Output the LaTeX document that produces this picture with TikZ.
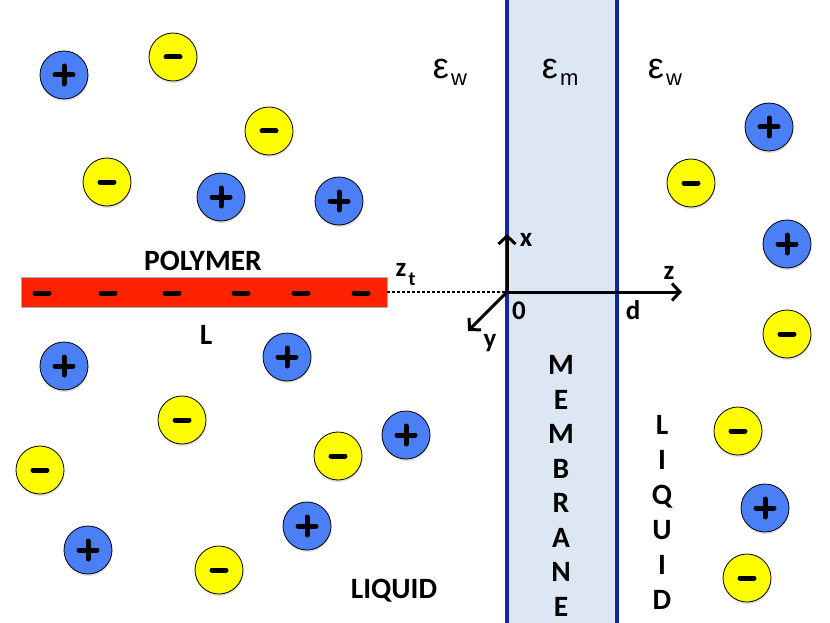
\documentclass[tikz,border=0pt]{standalone}
\usepackage{fontspec}
\setmainfont{Carlito}
\newfontfamily\epsfont{Liberation Sans}
\usetikzlibrary{shadows,arrows.meta}
\definecolor{ionblue}{HTML}{4A7FF5}
\definecolor{ionyellow}{HTML}{FFFF00}
\definecolor{polyred}{HTML}{FF2200}
\definecolor{memfill}{HTML}{DDE7F3}
\definecolor{memline}{HTML}{0F2AA0}
\definecolor{polyedge}{HTML}{9DB2CF}
\begin{document}
\begin{tikzpicture}[x=1pt,y=-1pt,
  ion/.style={circle,draw=black,line width=0.8pt,minimum size=48pt,inner sep=0pt,
    drop shadow={opacity=0.25,shadow xshift=0.5pt,shadow yshift=-2pt}},
  posion/.style={ion,fill=ionblue},
  negion/.style={ion,fill=ionyellow},
  sgn/.style={line width=5pt,black,line cap=round},
  lbl/.style={font=\fontsize{29.5}{29.5}\bfseries\selectfont,inner sep=0pt},
  axlbl/.style={font=\fontsize{27}{27}\bfseries\selectfont,inner sep=0pt},
  eps/.style={font=\epsfont\fontsize{36}{36}\selectfont,inner sep=0pt},
  epssub/.style={font=\epsfont\fontsize{22}{22}\selectfont,inner sep=0pt},
  axis/.style={line width=3pt,black,-{Straight Barb[length=8pt,width=17pt,line width=3pt]}},
]
\useasboundingbox (0,0) rectangle (830,623);
% membrane
\fill[memfill] (507,0) rectangle (617,623);
\draw[memline,line width=4.5pt] (507,0) -- (507,623);
\draw[memline,line width=4.5pt] (617,0) -- (617,623);
% dielectric labels
\node[eps] (e1) at (441,69) {ε};
\node[epssub,anchor=west] (e1s) at (451,80) {w};
\node[eps] (e2) at (550,69) {ε};
\node[epssub,anchor=west] (e2s) at (560,80) {m};
\node[eps] (e3) at (656,69) {ε};
\node[epssub,anchor=west] (e3s) at (666,80) {w};
% positive ions
\foreach \n/\x/\y in {1/64/75, 2/221/197, 3/339/201, 4/769/127, 5/787/244, 6/64/366,
  7/287/357, 8/406/435, 9/307/526, 10/88/550, 11/765/508}{
  \node[posion] (p\n) at (\x,\y) {};
  \draw[sgn] ([xshift=-9pt]p\n.center) -- ([xshift=9pt]p\n.center);
  \draw[sgn] ([yshift=-9pt]p\n.center) -- ([yshift=9pt]p\n.center);
}
% negative ions
\foreach \n/\x/\y in {1/173/57, 2/269/131, 3/107/182, 4/691/183, 5/787/334, 6/182/420,
  7/338/456, 8/40/470, 9/219/570, 10/738/431, 11/747/578}{
  \node[negion] (n\n) at (\x,\y) {};
  \draw[sgn] ([xshift=-7pt]n\n.center) -- ([xshift=7pt]n\n.center);
}
% polymer
\node[rectangle,fill=polyred,draw=polyedge,line width=0.8pt,minimum width=366pt,
  minimum height=30pt,inner sep=0pt] (poly) at (204,292) {};
\foreach \n/\x in {1/42,2/108,3/172,4/241,5/301,6/361}{
  \coordinate (c\n) at (\x,293);
  \draw[sgn] ([xshift=-7pt]c\n) -- ([xshift=7pt]c\n);
}
\node[lbl] (polylbl) at (203,261) {POLYMER};
\node[lbl] (llbl) at (206,335) {L};
\node[axlbl] (ztz) at (401,270) {z};
\node[font=\fontsize{20}{20}\bfseries\selectfont,inner sep=0pt] (ztt) at (412,279) {t};
% axes
\coordinate (o) at (507,292);
\coordinate (xe) at (507,234);
\coordinate (ze) at (682,292);
\coordinate (ye) at (468,331);
\draw[dashed,line width=1.1pt,dash pattern=on 3pt off 2pt] (poly.east) -- (o);
\draw[axis] (o) -- (xe);
\draw[axis] (o) -- (ze);
\draw[axis] (o) -- (ye);
\node[axlbl] (xl) at (526,240) {x};
\node[axlbl] (zl) at (669,273) {z};
\node[axlbl] (ol) at (519,311) {0};
\node[axlbl] (dl) at (633,310) {d};
\node[axlbl] (yl) at (490,343) {y};
% membrane text
\foreach \n/\t [count=\i from 0] in {1/M,2/E,3/M,4/B,5/R,6/A,7/N,8/E}{
  \node[lbl] (mem\n) at (561,365+34.5*\i) {\t};
}
% liquid vertical
\foreach \n/\t [count=\i from 0] in {1/L,2/I,3/Q,4/U,5/I,6/D}{
  \node[lbl,anchor=base] (liq\n) at (662,434+35*\i) {\t};
}
\node[lbl] (liqlbl) at (394,591) {LIQUID};
\end{tikzpicture}
\end{document}
